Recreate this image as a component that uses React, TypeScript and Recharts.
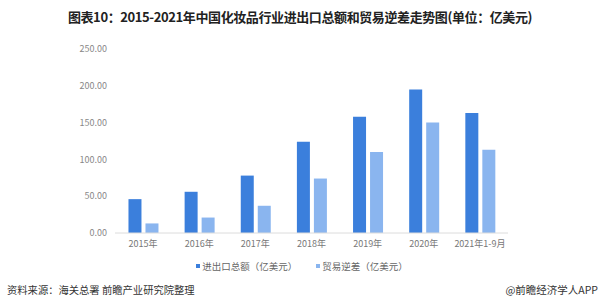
import React from 'react';
import { BarChart, Bar, XAxis, YAxis, Legend } from 'recharts';

const categories = ['2015年', '2016年', '2017年', '2018年', '2019年', '2020年', '2021年1-9月'];
const totalTrade = [46, 56, 78, 124, 158, 195, 163];
const tradeDeficit = [13, 21, 37, 74, 110, 150, 113];
const yTicks = [0, 50, 100, 150, 200, 250];
const seriesNames = ['进出口总额（亿美元）', '贸易逆差（亿美元）'];
const colors = ['#3b7fdc', '#8ab5ef'];

const data = categories.map((c, i) => ({ name: c, total: totalTrade[i], deficit: tradeDeficit[i] }));

const FONT = '"Noto Sans CJK SC", "Noto Sans", sans-serif';

const LegendContent = () => (
  <div style={{ display: 'flex', justifyContent: 'center', fontFamily: FONT, fontSize: 9.5, color: '#666' }}>
    {seriesNames.map((n, i) => (
      <div key={n} style={{ display: 'flex', alignItems: 'center', marginRight: i === 0 ? 19 : 0 }}>
        <span style={{ width: 4, height: 4, background: colors[i], display: 'inline-block', marginRight: 2 }} />
        <span>{n}</span>
      </div>
    ))}
  </div>
);

export default function App() {
  return (
    <div style={{ position: 'absolute', left: 0, top: 0, width: 600, height: 307, background: '#fff', overflow: 'hidden', fontFamily: FONT }}>
      <div style={{ position: 'absolute', top: 7, left: 0, width: 600, textAlign: 'center', fontSize: 13, fontWeight: 'bold', color: '#222', letterSpacing: -0.4 }}>
        图表10：2015-2021年中国化妆品行业进出口总额和贸易逆差走势图(单位：亿美元)
      </div>
      <div style={{ position: 'absolute', top: 0, left: 0 }}>
        <BarChart
          width={600}
          height={307}
          data={data}
          margin={{ top: 49, right: 92, left: 0, bottom: 44 }}
          barGap={4}
          barCategoryGap="24%"
        >
          <XAxis
            dataKey="name"
            height={30}
            axisLine={{ stroke: '#dcdcdc' }}
            tickLine={false}
            interval={0}
            tick={{ fontSize: 9, fill: '#777', fontFamily: FONT }}
          />
          <YAxis
            width={115}
            domain={[0, 250]}
            ticks={yTicks}
            axisLine={false}
            tickLine={false}
            tickFormatter={(v: number) => v.toFixed(2)}
            tick={{ fontSize: 9, fill: '#888', fontFamily: FONT }}
          />
          <Legend
            layout="horizontal"
            verticalAlign="middle"
            align="center"
            wrapperStyle={{ position: 'absolute', top: 259, left: 6, width: 592 }}
            content={<LegendContent />}
          />
          <Bar dataKey="total" name={seriesNames[0]} fill={colors[0]} isAnimationActive={false} />
          <Bar dataKey="deficit" name={seriesNames[1]} fill={colors[1]} isAnimationActive={false} />
        </BarChart>
      </div>
      <div style={{ position: 'absolute', top: 282, left: 7, fontSize: 10.3, color: '#333' }}>
        资料来源：海关总署 前瞻产业研究院整理
      </div>
      <div style={{ position: 'absolute', top: 282, right: 2, fontSize: 10.5, color: '#333' }}>
        @前瞻经济学人APP
      </div>
    </div>
  );
}
